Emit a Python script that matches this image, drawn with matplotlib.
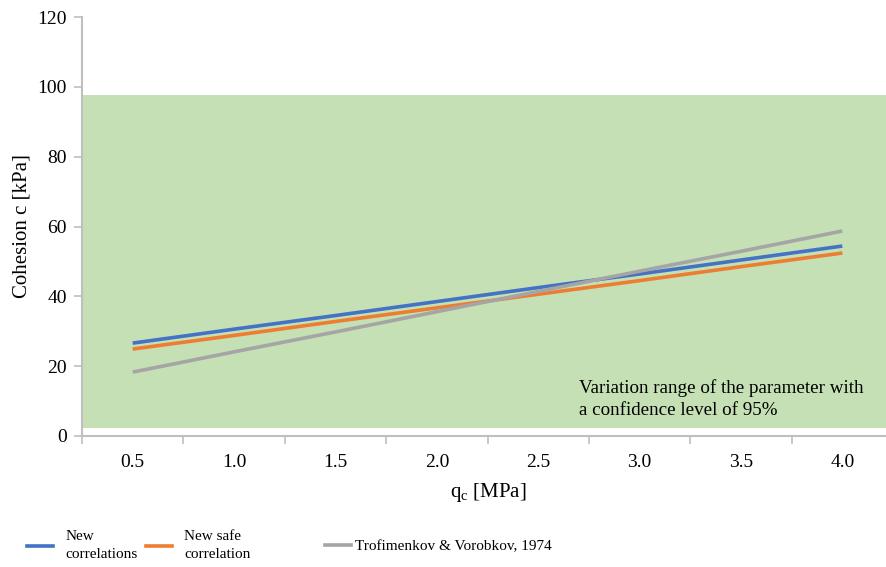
import matplotlib
matplotlib.use("Agg")
import matplotlib.pyplot as plt
from matplotlib.lines import Line2D

plt.rcParams['font.family'] = ['Liberation Serif', 'DejaVu Serif']
plt.rcParams['mathtext.fontset'] = 'custom'
plt.rcParams['mathtext.rm'] = 'Liberation Serif'
plt.rcParams['mathtext.it'] = 'Liberation Serif:italic'

qc_labels = ["0.5", "1.0", "1.5", "2.0", "2.5", "3.0", "3.5", "4.0"]
new_corr = [26.6, 30.6, 34.5, 38.5, 42.5, 46.4, 50.4, 54.4]
new_safe = [24.9, 28.8, 32.8, 36.7, 40.6, 44.5, 48.5, 52.4]
trofimenkov = [18.3, 24.1, 29.8, 35.6, 41.4, 47.2, 52.9, 58.7]
band_low, band_high = 2.3, 97.7

series_names = ["New\ncorrelations", "New safe\ncorrelation", "Trofimenkov & Vorobkov, 1974"]
colors = ["#4472C4", "#ED7D31", "#A5A5A5"]

fig = plt.figure(figsize=(8.86, 5.67), dpi=100)
ax = fig.add_axes([82/886, (567-436)/567, 1 - 82/886 + 7/886, (436-17)/567])

x = list(range(len(qc_labels)))
ax.axhspan(band_low, band_high, color="#C5E0B4", zorder=0, lw=0)
for vals, c in zip([new_corr, new_safe, trofimenkov], colors):
    ax.plot(x, vals, color=c, lw=2.6, solid_capstyle='butt', zorder=3)

ax.set_xlim(-0.5, len(qc_labels) - 0.5)
ax.set_ylim(0, 120)
ax.set_yticks(range(0, 121, 20))
ax.set_xticks(x)
ax.set_xticklabels(qc_labels)
ax.set_xticks([i - 0.5 for i in range(len(qc_labels) + 1)], minor=True)
ax.tick_params(axis='x', which='major', length=0, pad=13, labelsize=14)
ax.tick_params(axis='x', which='minor', length=6, color="#BFBFBF", width=1.2)
ax.tick_params(axis='y', length=6, color="#BFBFBF", width=1.2, labelsize=14, pad=5)
for s in ["top", "right"]:
    ax.spines[s].set_visible(False)
for s in ["left", "bottom"]:
    ax.spines[s].set_color("#BFBFBF")
    ax.spines[s].set_linewidth(1.5)

ax.set_ylabel("Cohesion c [kPa]", fontsize=15, labelpad=4)
fig.text(488/886, 1 - 492/567, r"q$_\mathrm{c}$ [MPa]", fontsize=15, ha='center', va='center')

ax.text(579/886, 1 - 399/567, "Variation range of the parameter with\na confidence level of 95%",
        transform=fig.transFigure, fontsize=13.7, ha='left', va='center', linespacing=1.32)

anchors = [(27/886, 1 - 546/567), (146/886, 1 - 546/567), (325/886, 1 - 546/567)]
pads = [0.8, 0.8, 0.25]
for name, c, (ax_, ay_), p in zip(series_names, colors, anchors, pads):
    h = Line2D([], [], color=c, lw=2.6)
    leg = fig.legend([h], [name], loc='center left', bbox_to_anchor=(ax_, ay_), frameon=False,
                     fontsize=11, handlelength=1.7, handletextpad=p, borderpad=0, borderaxespad=0)
    for t in leg.get_texts():
        t.set_linespacing(1.5)

fig.savefig("out.png", dpi=100)
